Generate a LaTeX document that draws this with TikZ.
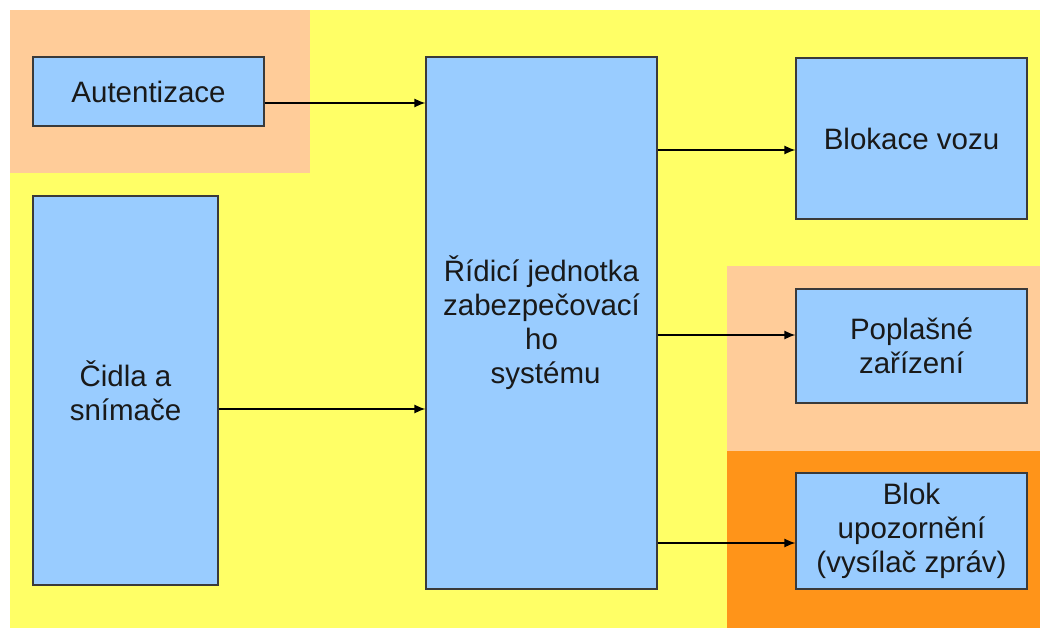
\documentclass[tikz,border=0pt]{standalone}
\usepackage{fontspec}
\setmainfont{Liberation Sans}
\usetikzlibrary{arrows.meta}
\definecolor{bgyellow}{HTML}{FFFF66}
\definecolor{bgpeach}{HTML}{FFCC99}
\definecolor{bgorange}{HTML}{FF9419}
\definecolor{boxblue}{HTML}{99CCFF}
\definecolor{boxline}{HTML}{3A3A3A}
\tikzset{
  blockbox/.style={draw=boxline, line width=1.2pt, fill=boxblue, inner sep=0pt,
    align=center, font=\fontsize{29.5}{34}\selectfont, text=black!90},
  flow/.style={draw=black, line width=1.4pt, -{Latex[length=11pt,width=9pt]}}
}
\begin{document}
\begin{tikzpicture}[x=1pt,y=-1pt]
\useasboundingbox (0,0) rectangle (1040,628);
\fill[white] (0,0) rectangle (1040,628);
\fill[bgyellow] (10,10) rectangle (1040,628);
\fill[bgpeach] (10,10) rectangle (310,173);
\fill[bgpeach] (727,266) rectangle (1040,451);
\fill[bgorange] (727,451) rectangle (1040,628);

\node[blockbox, minimum width=231pt, minimum height=69pt] (aut) at (148.5,91.5) {Autentizace};
\node[blockbox, minimum width=185pt, minimum height=389pt] (cid) at (125.5,390.5) {Čidla a\\snímače};
\node[blockbox, minimum width=231pt, minimum height=532pt] (ctl) at (541.5,323) {Řídicí jednotka\\zabezpečovací\\ho\\\hspace*{0.28em}systému};
\node[blockbox, minimum width=231pt, minimum height=161pt] (blk) at (911.5,138.5) {Blokace vozu};
\node[blockbox, minimum width=231pt, minimum height=114pt] (pop) at (911.5,346) {Poplašné\\zařízení};
\node[blockbox, minimum width=231pt, minimum height=116pt] (upo) at (911.5,531) {Blok\\upozornění\\(vysílač zpráv)};

\draw[flow] (aut.east |- 0,103) -- (ctl.west |- 0,103);
\draw[flow] (cid.east |- 0,409) -- (ctl.west |- 0,409);
\draw[flow] (ctl.east |- 0,150) -- (blk.west |- 0,150);
\draw[flow] (ctl.east |- 0,335) -- (pop.west |- 0,335);
\draw[flow] (ctl.east |- 0,543) -- (upo.west |- 0,543);
\end{tikzpicture}
\end{document}
